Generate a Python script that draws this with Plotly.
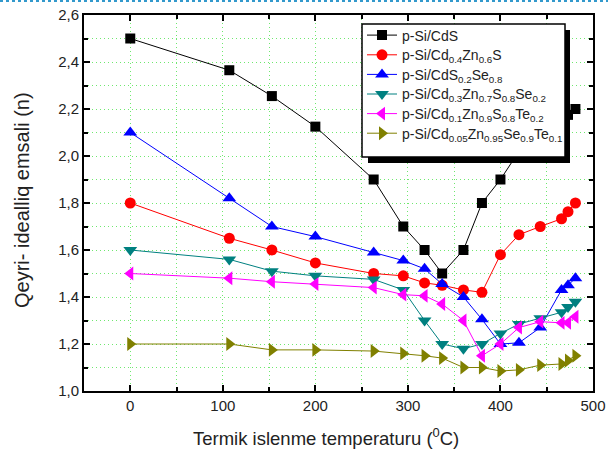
import plotly.graph_objects as go

# Annealing temperature (°C), shared by all samples
temps = [0, 107, 153, 200, 263, 295, 318, 337, 360, 380, 400, 420, 443, 466, 473, 481]

# Ideality factor n for each structure
n_cds = [2.50, 2.365, 2.255, 2.125, 1.90, 1.70, 1.60, 1.50, 1.60, 1.80, 1.90, 2.02, 2.10, 2.15, 2.175, 2.20]
n_cdzns = [1.80, 1.65, 1.60, 1.545, 1.50, 1.49, 1.46, 1.45, 1.43, 1.42, 1.58, 1.665, 1.70, 1.733, 1.763, 1.80]
n_cdsse = [2.10, 1.82, 1.70, 1.657, 1.589, 1.555, 1.52, 1.455, 1.40, 1.305, 1.20, 1.205, 1.27, 1.43, 1.45, 1.48]
n_cdznsse = [1.60, 1.56, 1.51, 1.49, 1.475, 1.43, 1.30, 1.20, 1.18, 1.20, 1.245, 1.285, 1.31, 1.335, 1.357, 1.38]
n_cdznste = [1.50, 1.48, 1.465, 1.455, 1.44, 1.41, 1.405, 1.37, 1.30, 1.15, 1.20, 1.27, 1.295, 1.29, 1.29, 1.316]
n_cdznsete = [1.20, 1.20, 1.175, 1.175, 1.17, 1.16, 1.15, 1.14, 1.10, 1.10, 1.085, 1.09, 1.11, 1.115, 1.13, 1.15]

names = [
    "p-Si/CdS",
    "p-Si/Cd<sub>0.4</sub>Zn<sub>0.6</sub>S",
    "p-Si/CdS<sub>0.2</sub>Se<sub>0.8</sub>",
    "p-Si/Cd<sub>0.3</sub>Zn<sub>0.7</sub>S<sub>0.8</sub>Se<sub>0.2</sub>",
    "p-Si/Cd<sub>0.1</sub>Zn<sub>0.9</sub>S<sub>0.8</sub>Te<sub>0.2</sub>",
    "p-Si/Cd<sub>0.05</sub>Zn<sub>0.95</sub>Se<sub>0.9</sub>Te<sub>0.1</sub>",
]
series = [n_cds, n_cdzns, n_cdsse, n_cdznsse, n_cdznste, n_cdznsete]
colors = ["#000000", "#FF0000", "#0000FF", "#008080", "#FF00FF", "#808000"]
symbols = ["square", "circle", "triangle-up", "triangle-down", "triangle-left", "triangle-right"]
sizes = [10, 11, 12, 12, 12, 12]

# plot area in pixels, used to place paper-referenced decorations
L, R, T, B = 84, 593, 15, 391
W, H = R - L, B - T


def px_x(p):
    return (p - L) / W


def px_y(p):
    return (B - p) / H


fig = go.Figure()
legend_ids = ["legend", "legend2", "legend3", "legend4", "legend5", "legend6"]
for name, vals, c, s, sz, lg in zip(names, series, colors, symbols, sizes, legend_ids):
    fig.add_trace(go.Scatter(
        x=temps, y=vals, name=name, mode="lines+markers",
        line=dict(color=c, width=1),
        marker=dict(symbol=s, size=sz, color=c, line=dict(width=0)),
        legend=lg,
    ))

grid_color = "#6FE86F"
grid_dash = "1px,3px"

# one legend per entry so the rows sit at an even, compact pitch
row_centres = [35.5, 55.2, 74.8, 94.4, 114.0, 133.6]
legend_layout = {}
for lg, yc in zip(legend_ids, row_centres):
    legend_layout[lg] = dict(
        x=px_x(362), y=px_y(yc), xanchor="left", yanchor="middle",
        bgcolor="rgba(0,0,0,0)", borderwidth=0,
        font=dict(size=14, color="#222222"), itemwidth=30,
    )

fig.update_layout(
    width=608, height=452,
    margin=dict(l=L, r=608 - R, t=T, b=452 - B),
    paper_bgcolor="white", plot_bgcolor="white",
    separators=", ",
    font=dict(family="Liberation Sans, Arial, sans-serif", size=15, color="#222222"),
    showlegend=True,
    xaxis=dict(
        range=[-50, 500], dtick=100, tick0=0, automargin=False,
        showline=True, linecolor="black", linewidth=2, mirror="allticks",
        ticks="inside", ticklen=6, tickwidth=1.5, tickcolor="black",
        showgrid=True, gridcolor=grid_color, gridwidth=1, griddash=grid_dash,
        zeroline=False,
        minor=dict(dtick=50, ticks="inside", ticklen=4, tickcolor="black",
                   showgrid=True, gridcolor=grid_color, griddash=grid_dash, gridwidth=1),
        tickfont=dict(size=15),
    ),
    yaxis=dict(
        range=[1.0, 2.6], dtick=0.2, tick0=1.0, tickformat=".1f", automargin=False,
        showline=True, linecolor="black", linewidth=2, mirror="allticks",
        ticks="inside", ticklen=6, tickwidth=1.5, tickcolor="black",
        showgrid=True, gridcolor=grid_color, gridwidth=1, griddash=grid_dash,
        zeroline=False,
        minor=dict(dtick=0.1, ticks="inside", ticklen=4, tickcolor="black",
                   showgrid=True, gridcolor=grid_color, griddash=grid_dash, gridwidth=1),
        tickfont=dict(size=15),
    ),
    annotations=[
        dict(text="Termik islenme temperaturu (<sup>0</sup>C)", xref="paper", yref="paper",
             x=px_x(326), y=px_y(437), xanchor="center", yanchor="middle",
             showarrow=False, font=dict(size=18.5)),
        dict(text="Qeyri- idealliq emsali (n)", xref="paper", yref="paper",
             x=px_x(22), y=px_y(200), xanchor="center", yanchor="middle",
             textangle=-90, showarrow=False, font=dict(size=20)),
    ],
    shapes=[
        # drop shadow behind the legend box
        dict(type="rect", xref="paper", yref="paper", layer="above",
             x0=px_x(368), x1=px_x(570), y0=px_y(163), y1=px_y(30),
             fillcolor="black", line=dict(width=0)),
        # legend box
        dict(type="rect", xref="paper", yref="paper", layer="above",
             x0=px_x(362), x1=px_x(565), y0=px_y(157), y1=px_y(24),
             fillcolor="white", line=dict(color="black", width=1.5)),
        # dotted rule along the top edge of the page
        dict(type="line", xref="paper", yref="paper",
             x0=px_x(0), x1=px_x(608), y0=px_y(1), y1=px_y(1),
             line=dict(color="#3399CC", width=2, dash="dot")),
    ],
    **legend_layout,
)

fig.write_html("out.html")
